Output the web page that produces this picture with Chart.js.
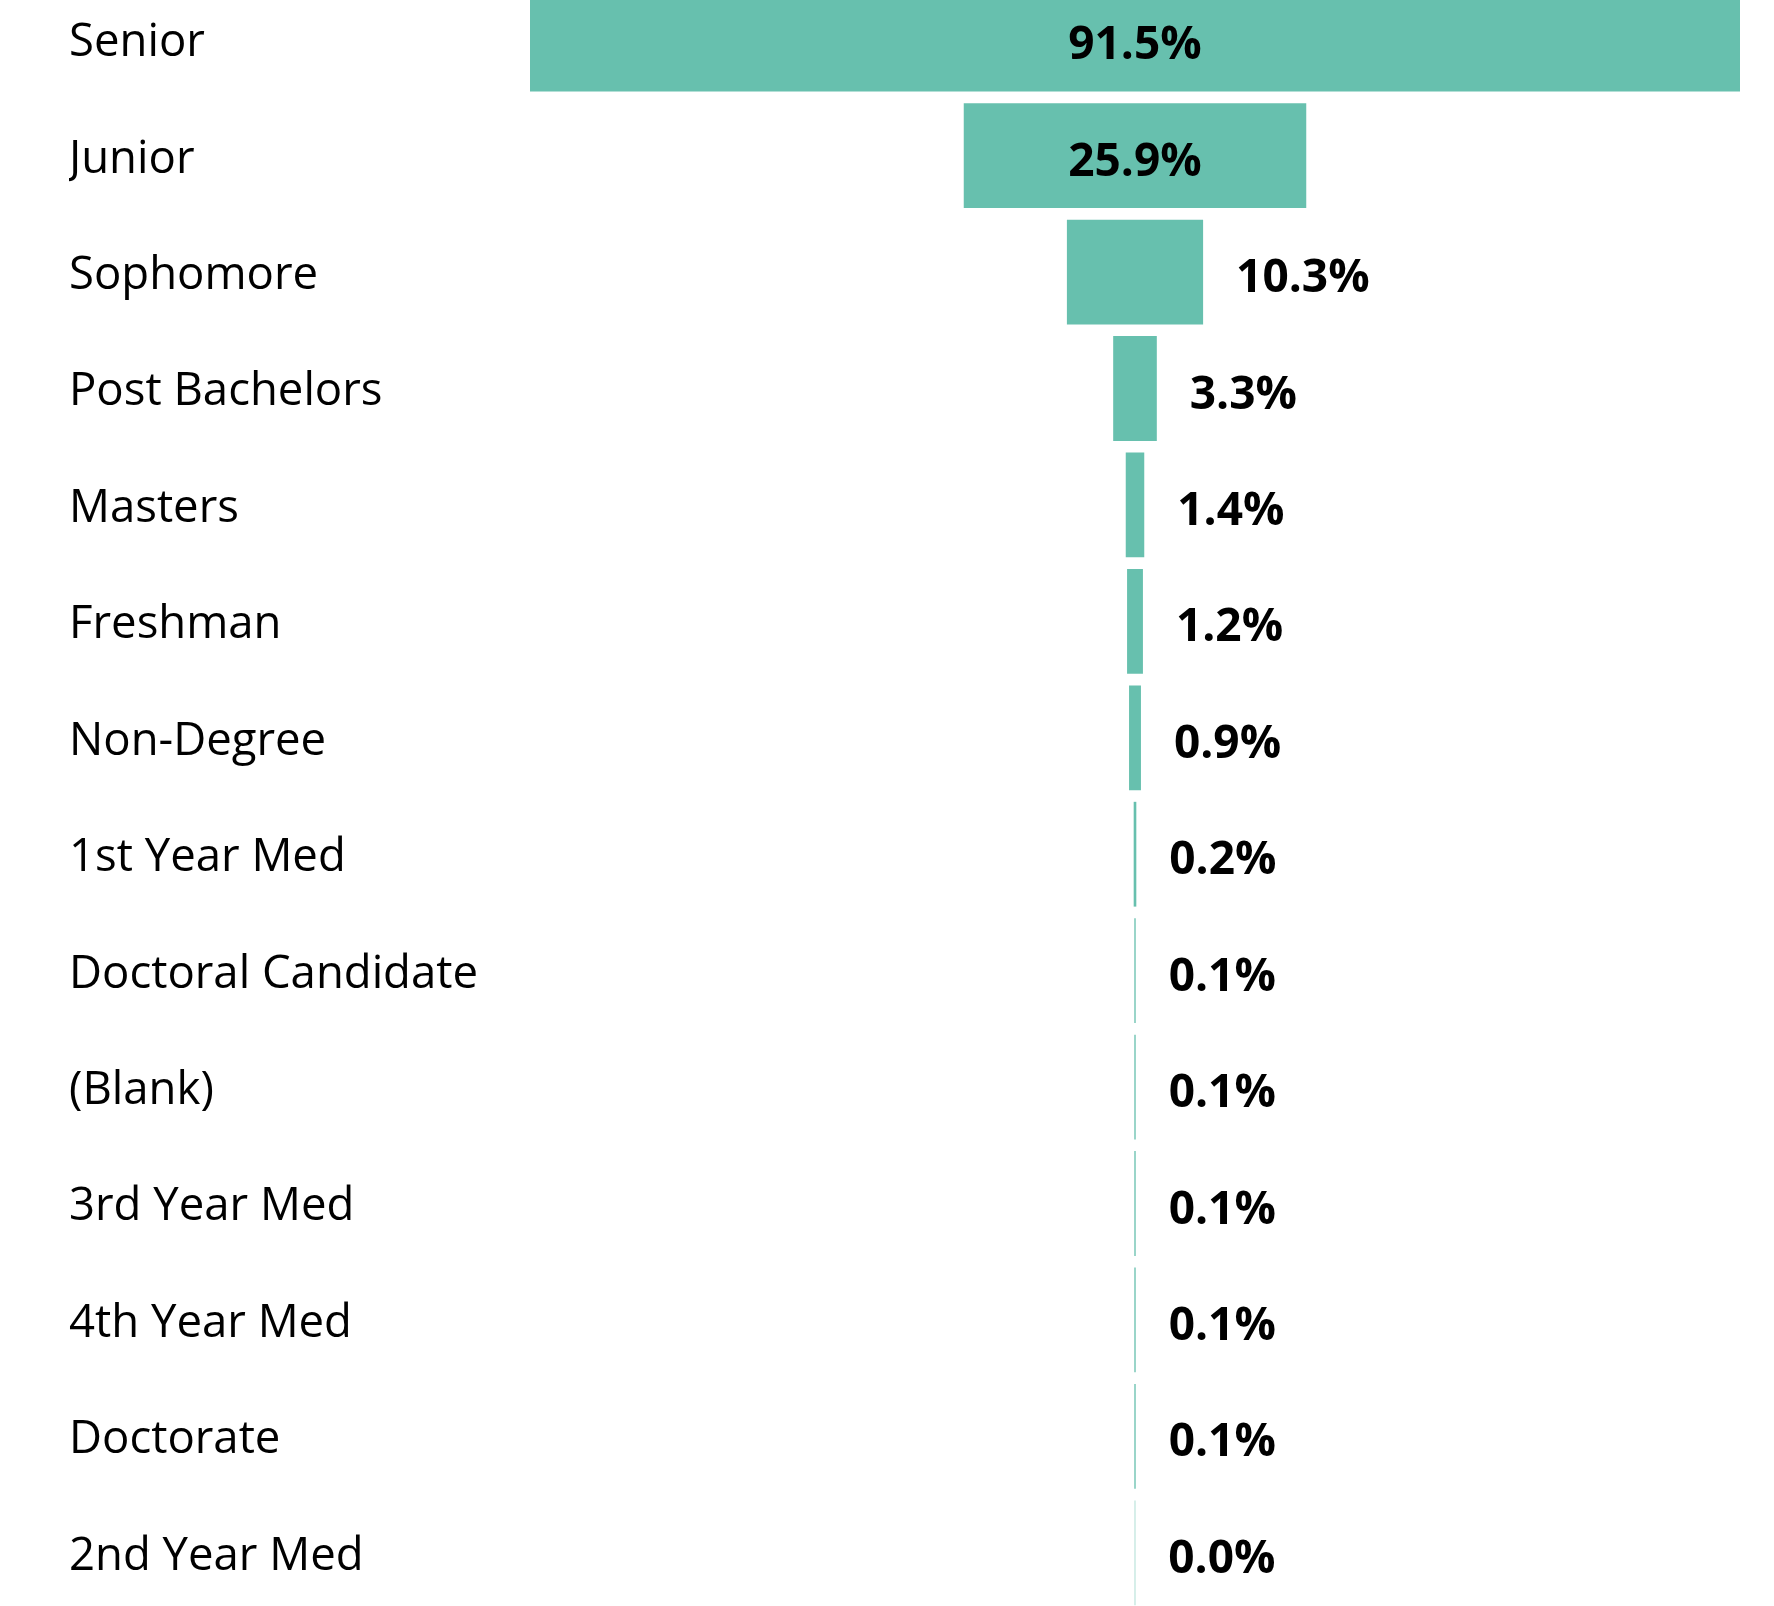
<!DOCTYPE html>
<html>
<head>
<meta charset="utf-8">
<script src="https://cdn.jsdelivr.net/npm/chart.js@4.4.1/dist/chart.umd.min.js"></script>
<style>
  html, body { margin: 0; padding: 0; background: #fff; }
  #frame { position: relative; width: 1774px; height: 1606px; overflow: hidden; }
  #wrap { position: absolute; left: 0; top: -19px; width: 1774px; height: 1630px; }
</style>
</head>
<body>
<div id="frame"><div id="wrap"><canvas id="funnel"></canvas></div></div>
<script>
const categories = ['Senior', 'Junior', 'Sophomore', 'Post Bachelors', 'Masters', 'Freshman',
    'Non-Degree', '1st Year Med', 'Doctoral Candidate', '(Blank)', '3rd Year Med',
    '4th Year Med', 'Doctorate', '2nd Year Med'];
const shares = [91.5, 25.9, 10.3, 3.3, 1.4, 1.2, 0.9, 0.2, 0.1, 0.1, 0.1, 0.1, 0.1, 0.04];

const barColor = '#67C0AE';
const fontFamily = '"Open Sans", "Noto Sans", sans-serif';
const maxShare = Math.max(...shares);

// labels inside the bar when they fit, otherwise to the right of it
const valueLabels = {
    id: 'valueLabels',
    afterDatasetsDraw(chart) {
        const ctx = chart.ctx;
        const meta = chart.getDatasetMeta(0);
        ctx.save();
        ctx.font = 'bold 46px ' + fontFamily;
        ctx.fillStyle = '#000';
        ctx.textBaseline = 'middle';
        meta.data.forEach((bar, i) => {
            const text = shares[i].toFixed(1) + '%';
            const left = Math.min(bar.x, bar.base);
            const right = Math.max(bar.x, bar.base);
            const tw = ctx.measureText(text).width;
            if (right - left > tw + 30) {
                ctx.textAlign = 'center';
                ctx.fillText(text, (left + right) / 2, bar.y + 7);
            } else {
                ctx.textAlign = 'left';
                ctx.fillText(text, right + 33, bar.y + 7);
            }
        });
        ctx.restore();
    }
};

new Chart(document.getElementById('funnel'), {
    type: 'bar',
    data: {
        labels: categories,
        datasets: [{
            data: shares.map(v => [-v / 2, v / 2]),
            backgroundColor: barColor,
            borderWidth: 0,
            barPercentage: 0.9,
            categoryPercentage: 1
        }]
    },
    options: {
        indexAxis: 'y',
        responsive: true,
        maintainAspectRatio: false,
        animation: false,
        layout: { padding: { left: 69, right: 34, top: 0, bottom: 0 } },
        plugins: { legend: { display: false }, tooltip: { enabled: false } },
        scales: {
            x: { display: false, min: -maxShare / 2, max: maxShare / 2 },
            y: {
                grid: { display: false },
                border: { display: false },
                ticks: {
                    color: '#000',
                    crossAlign: 'far',
                    padding: 0,
                    labelOffset: 4,
                    font: { family: fontFamily, size: 45.5 }
                },
                afterFit(scale) {
                    scale.width = 461;
                    // rows run edge to edge, no room kept for half labels
                    scale.paddingTop = 0;
                    scale.paddingBottom = 0;
                }
            }
        }
    },
    plugins: [valueLabels]
});
</script>
</body>
</html>
